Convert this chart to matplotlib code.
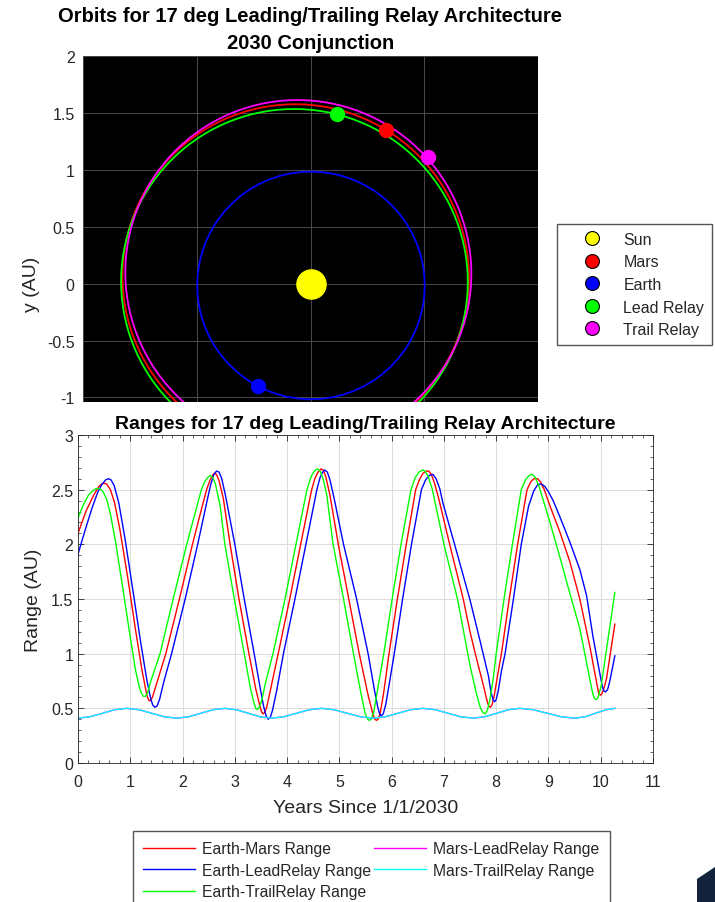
import matplotlib

matplotlib.use("Agg")
import matplotlib.pyplot as plt
from matplotlib.lines import Line2D
from matplotlib.patches import Ellipse, Polygon
from matplotlib.ticker import FuncFormatter, MultipleLocator

plt.rcParams.update({
    "font.family": ["Liberation Sans", "DejaVu Sans"],
    "font.size": 11,
    "text.color": "#262626",
    "axes.labelcolor": "#262626",
    "xtick.color": "#262626",
    "ytick.color": "#262626",
})

# ---- orbit view (AU) ----
ORBIT_NAMES = ["Earth", "Mars", "Lead Relay", "Trail Relay"]
ORBIT_CX = [0.004, -0.130, -0.141, -0.107]
ORBIT_CY = [-0.016, 0.058, 0.017, 0.093]
ORBIT_SEMI_MAJOR = [1.000, 1.524, 1.524, 1.524]
ORBIT_SEMI_MINOR = [1.000, 1.517, 1.517, 1.517]
ORBIT_TILT_DEG = [13.0, -24.0, -7.0, -41.0]
ORBIT_COLORS = ["#0000ff", "#ff0000", "#00ff00", "#ff00ff"]

BODY_NAMES = ["Sun", "Mars", "Earth", "Lead Relay", "Trail Relay"]
BODY_X = [0.0, 0.66, -0.46, 0.23, 1.03]
BODY_Y = [0.0, 1.35, -0.90, 1.49, 1.11]
BODY_COLORS = ["#ffff00", "#ff0000", "#0000ff", "#00ff00", "#ff00ff"]

# ---- ranges (AU) vs years since 1/1/2030 ----
EM_YEARS = [0.00, 0.15, 0.30, 0.40, 0.45, 0.50, 0.55, 0.62, 0.70, 0.80, 0.95, 1.10, 1.22, 1.30,
            1.33, 1.36, 1.39, 1.43, 1.50, 1.68, 1.94, 2.19, 2.35, 2.46, 2.52, 2.57, 2.61, 2.65,
            2.70, 2.78, 2.91, 3.08, 3.27, 3.40, 3.48, 3.51, 3.54, 3.57, 3.61, 3.66, 3.83, 4.05,
            4.26, 4.47, 4.53, 4.59, 4.65, 4.69, 4.74, 4.82, 4.98, 5.18, 5.38, 5.55, 5.64, 5.68,
            5.71, 5.74, 5.78, 5.85, 5.95, 6.11, 6.28, 6.46, 6.53, 6.60, 6.67, 6.71, 6.76, 6.82,
            6.90, 7.11, 7.37, 7.50, 7.60, 7.76, 7.83, 7.86, 7.89, 7.92, 7.96, 8.02, 8.10, 8.25,
            8.41, 8.59, 8.66, 8.72, 8.79, 8.85, 8.92, 9.03, 9.22, 9.41, 9.60, 9.79, 9.92, 9.96,
            9.99, 10.02, 10.06, 10.11, 10.27]
EM_RANGE = [2.10, 2.30, 2.45, 2.53, 2.55, 2.56, 2.55, 2.50, 2.38, 2.14, 1.70, 1.22, 0.86, 0.66,
            0.60, 0.57, 0.57, 0.61, 0.72, 1.00, 1.50, 2.00, 2.30, 2.50, 2.58, 2.63, 2.65, 2.64,
            2.58, 2.42, 2.00, 1.50, 1.00, 0.68, 0.52, 0.47, 0.45, 0.46, 0.51, 0.62, 1.00, 1.50,
            2.00, 2.50, 2.60, 2.66, 2.69, 2.68, 2.62, 2.45, 2.00, 1.50, 1.00, 0.62, 0.45, 0.40,
            0.39, 0.40, 0.45, 0.65, 1.00, 1.50, 2.00, 2.50, 2.59, 2.65, 2.67, 2.67, 2.64, 2.56,
            2.42, 2.00, 1.50, 1.20, 1.00, 0.70, 0.56, 0.52, 0.51, 0.53, 0.61, 0.78, 1.00, 1.50,
            2.00, 2.50, 2.57, 2.60, 2.60, 2.57, 2.50, 2.35, 2.11, 1.84, 1.50, 1.07, 0.74, 0.64,
            0.62, 0.63, 0.68, 0.77, 1.27]

ELEAD_YEARS = [0.00, 0.13, 0.26, 0.38, 0.46, 0.53, 0.58, 0.63, 0.69, 0.78, 0.90, 1.05, 1.20, 1.32,
               1.39, 1.43, 1.47, 1.51, 1.56, 1.64, 1.79, 2.05, 2.29, 2.47, 2.54, 2.60, 2.65, 2.70,
               2.75, 2.82, 3.00, 3.18, 3.37, 3.48, 3.55, 3.60, 3.64, 3.68, 3.72, 3.80, 3.93, 4.15,
               4.36, 4.57, 4.63, 4.68, 4.72, 4.77, 4.82, 4.90, 5.08, 5.33, 5.55, 5.67, 5.73, 5.77,
               5.80, 5.84, 5.89, 5.96, 6.05, 6.21, 6.38, 6.57, 6.65, 6.72, 6.79, 6.85, 6.92, 6.98,
               7.21, 7.50, 7.70, 7.85, 7.90, 7.94, 7.97, 8.00, 8.04, 8.10, 8.17, 8.33, 8.48, 8.62,
               8.72, 8.80, 8.87, 8.93, 9.00, 9.09, 9.22, 9.41, 9.60, 9.73, 9.85, 9.99, 10.03, 10.06,
               10.09, 10.13, 10.17, 10.27]
ELEAD_RANGE = [1.91, 2.12, 2.32, 2.48, 2.55, 2.59, 2.60, 2.59, 2.54, 2.38, 2.05, 1.58, 1.10, 0.75,
               0.59, 0.53, 0.51, 0.52, 0.58, 0.74, 1.00, 1.50, 2.00, 2.40, 2.55, 2.64, 2.67, 2.66,
               2.60, 2.45, 2.00, 1.50, 1.00, 0.70, 0.52, 0.43, 0.40, 0.42, 0.48, 0.66, 1.00, 1.50,
               2.00, 2.50, 2.61, 2.66, 2.68, 2.66, 2.59, 2.42, 2.00, 1.50, 1.00, 0.67, 0.52, 0.45,
               0.43, 0.45, 0.54, 0.74, 1.00, 1.50, 2.00, 2.50, 2.59, 2.63, 2.64, 2.60, 2.51, 2.38,
               1.99, 1.49, 1.10, 0.80, 0.65, 0.58, 0.56, 0.58, 0.66, 0.84, 1.00, 1.50, 2.00, 2.35,
               2.49, 2.55, 2.55, 2.53, 2.48, 2.40, 2.25, 2.02, 1.77, 1.53, 1.16, 0.80, 0.70, 0.66,
               0.65, 0.67, 0.74, 0.98]

ETRAIL_YEARS = [0.00, 0.10, 0.20, 0.28, 0.35, 0.42, 0.48, 0.55, 0.62, 0.72, 0.85, 1.00, 1.10, 1.17,
                1.21, 1.25, 1.29, 1.33, 1.40, 1.57, 1.82, 2.08, 2.36, 2.42, 2.48, 2.53, 2.58, 2.63,
                2.72, 2.81, 2.99, 3.18, 3.30, 3.36, 3.40, 3.43, 3.47, 3.52, 3.58, 3.73, 3.96, 4.17,
                4.38, 4.46, 4.52, 4.58, 4.63, 4.69, 4.76, 4.88, 5.08, 5.27, 5.42, 5.49, 5.54, 5.57,
                5.61, 5.66, 5.72, 5.85, 6.01, 6.18, 6.37, 6.45, 6.52, 6.59, 6.64, 6.70, 6.78, 7.00,
                7.26, 7.50, 7.62, 7.70, 7.75, 7.79, 7.83, 7.88, 7.94, 8.00, 8.15, 8.31, 8.48, 8.56,
                8.63, 8.69, 8.75, 8.82, 9.03, 9.22, 9.41, 9.60, 9.79, 9.85, 9.88, 9.91, 9.95, 10.01,
                10.27]
ETRAIL_RANGE = [2.24, 2.36, 2.45, 2.49, 2.51, 2.51, 2.48, 2.41, 2.28, 2.02, 1.62, 1.15, 0.85, 0.70,
                0.64, 0.61, 0.61, 0.64, 0.76, 1.00, 1.50, 2.00, 2.50, 2.57, 2.61, 2.63, 2.61, 2.55,
                2.35, 2.00, 1.50, 1.00, 0.68, 0.56, 0.50, 0.49, 0.51, 0.58, 0.72, 1.00, 1.50, 2.00,
                2.50, 2.62, 2.67, 2.69, 2.67, 2.60, 2.45, 2.00, 1.50, 1.00, 0.62, 0.46, 0.40, 0.39,
                0.40, 0.47, 0.64, 1.00, 1.50, 2.00, 2.50, 2.61, 2.66, 2.68, 2.67, 2.62, 2.50, 2.00,
                1.50, 0.89, 0.64, 0.50, 0.46, 0.45, 0.48, 0.58, 0.76, 1.00, 1.50, 2.00, 2.50, 2.59,
                2.63, 2.64, 2.61, 2.53, 2.20, 1.88, 1.55, 1.23, 0.77, 0.63, 0.59, 0.58, 0.60, 0.71,
                1.56]

# Mars-relay ranges: the two overlap, cyan drawn on top
MR_YEARS = [0.00, 0.23, 0.47, 0.70, 0.93, 1.17, 1.41, 1.65, 1.89, 2.12, 2.35, 2.58, 2.81, 3.03,
            3.26, 3.48, 3.70, 3.94, 4.18, 4.42, 4.66, 4.90, 5.15, 5.40, 5.64, 5.88, 6.12, 6.36,
            6.60, 6.84, 7.08, 7.32, 7.56, 7.78, 8.01, 8.23, 8.45, 8.71, 8.98, 9.24, 9.50, 9.70,
            9.90, 10.10, 10.27]
MLEAD_RANGE = [0.41, 0.423, 0.455, 0.487, 0.50, 0.487, 0.455, 0.423, 0.41, 0.423, 0.455, 0.487,
               0.50, 0.487, 0.455, 0.423, 0.41, 0.423, 0.455, 0.487, 0.50, 0.487, 0.455, 0.423,
               0.41, 0.423, 0.455, 0.487, 0.50, 0.487, 0.455, 0.423, 0.41, 0.423, 0.455, 0.487,
               0.50, 0.487, 0.455, 0.423, 0.41, 0.423, 0.455, 0.487, 0.50]
MTRAIL_RANGE = list(MLEAD_RANGE)

SERIES = [
    ("Earth-Mars Range", EM_YEARS, EM_RANGE, "#ff0000"),
    ("Earth-LeadRelay Range", ELEAD_YEARS, ELEAD_RANGE, "#0000ff"),
    ("Earth-TrailRelay Range", ETRAIL_YEARS, ETRAIL_RANGE, "#00ff00"),
    ("Mars-LeadRelay Range", MR_YEARS, MLEAD_RANGE, "#ff00ff"),
    ("Mars-TrailRelay Range", MR_YEARS, MTRAIL_RANGE, "#00ffff"),
]

W, H = 715, 903
fig = plt.figure(figsize=(W / 100, H / 100), dpi=100, facecolor="white")


def px_axes(left, top, right, bottom):
    return fig.add_axes([left / W, 1 - bottom / H, (right - left) / W, (bottom - top) / H])


# ---------------- orbits ----------------
ax1 = px_axes(83, 57, 538, 403)
ax1.set_facecolor("black")
for cx, cy, a, b, tilt, color in zip(ORBIT_CX, ORBIT_CY, ORBIT_SEMI_MAJOR, ORBIT_SEMI_MINOR,
                                     ORBIT_TILT_DEG, ORBIT_COLORS):
    ax1.add_patch(Ellipse((cx, cy), 2 * a, 2 * b, angle=tilt, fill=False,
                          edgecolor=color, linewidth=1.3, zorder=3))
handles = []
for name, x, y, color in zip(BODY_NAMES, BODY_X, BODY_Y, BODY_COLORS):
    ms = 21 if name == "Sun" else 10
    ax1.plot([x], [y], "o", ms=ms, mfc=color, mec=color, zorder=5)
    handles.append(Line2D([], [], ls="none", marker="o", ms=10, mfc=color, mec="black",
                          mew=0.8, label=name))
ax1.set_xlim(-2, 2)
ax1.set_ylim(-1.04, 2)
ax1.set_xticks([-2, -1, 0, 1, 2])
ax1.set_xticklabels([])
ax1.set_yticks([-1, -0.5, 0, 0.5, 1, 1.5, 2])
ax1.yaxis.set_major_formatter(FuncFormatter(lambda v, _: f"{v:g}"))
ax1.tick_params(direction="in", length=0, labelsize=11.5, pad=6)
ax1.grid(True, color="#4a4a4a", linewidth=0.7)
ax1.set_axisbelow(True)
for sp in ax1.spines.values():
    sp.set_visible(False)
ax1.set_ylabel("y (AU)", fontsize=14)
ax1.yaxis.set_label_coords(-0.094, 0.344)
ax1.set_title("Orbits for 17 deg Leading/Trailing Relay Architecture\n2030 Conjunction",
              fontsize=14.5, fontweight="bold", color="black", pad=6, linespacing=1.5)
ax1.legend(handles=handles, loc="upper left", bbox_to_anchor=(557 / W, 1 - 225 / H),
           bbox_transform=fig.transFigure, borderaxespad=0, fontsize=11.5, frameon=True,
           fancybox=False, edgecolor="#555555", framealpha=1, handletextpad=0.25,
           labelspacing=0.47, borderpad=0.5, handlelength=3.4)

# ---------------- ranges ----------------
ax2 = px_axes(78, 436, 653, 764)
for label, years, rng, color in SERIES:
    ax2.plot(years, rng, color=color, linewidth=1.0, label=label)
ax2.set_xlim(0, 11)
ax2.set_ylim(0, 3)
ax2.set_xticks(range(0, 12))
ax2.set_yticks([0, 0.5, 1, 1.5, 2, 2.5, 3])
ax2.yaxis.set_major_formatter(FuncFormatter(lambda v, _: f"{v:g}"))
ax2.xaxis.set_minor_locator(MultipleLocator(0.2))
ax2.yaxis.set_minor_locator(MultipleLocator(0.1))
ax2.tick_params(which="both", direction="in", top=True, right=True, labelsize=11.5)
ax2.tick_params(axis="x", which="major", pad=8)
ax2.tick_params(which="major", length=4, width=0.6)
ax2.tick_params(which="minor", length=2, width=0.5)
ax2.grid(True, which="major", color="#dcdcdc", linewidth=0.7)
ax2.set_axisbelow(True)
for sp in ax2.spines.values():
    sp.set_color("#262626")
    sp.set_linewidth(0.6)
ax2.set_xlabel("Years Since 1/1/2030", fontsize=14, labelpad=7)
ax2.set_ylabel("Range (AU)", fontsize=14)
ax2.yaxis.set_label_coords(-0.063, 0.5)
ax2.set_title("Ranges for 17 deg Leading/Trailing Relay Architecture", fontsize=14,
              fontweight="bold", color="black", pad=5)
ax2.legend(loc="upper left", bbox_to_anchor=(133 / W, 1 - 832 / H),
           bbox_transform=fig.transFigure, borderaxespad=0, ncol=2, fontsize=11.3,
           frameon=True, fancybox=False, edgecolor="#555555", framealpha=1,
           handlelength=3.3, handletextpad=0.45, columnspacing=0.2, labelspacing=0.42,
           borderpad=0.65)

# dark corner shape at the bottom right of the screenshot
fig.patches.append(Polygon([(697 / W, 0), (697 / W, 1 - 880 / H), (1, 1 - 868 / H), (1, 0)],
                           closed=True, transform=fig.transFigure, facecolor="#13233b",
                           edgecolor="none"))

fig.savefig("out.png", dpi=100, facecolor="white")
